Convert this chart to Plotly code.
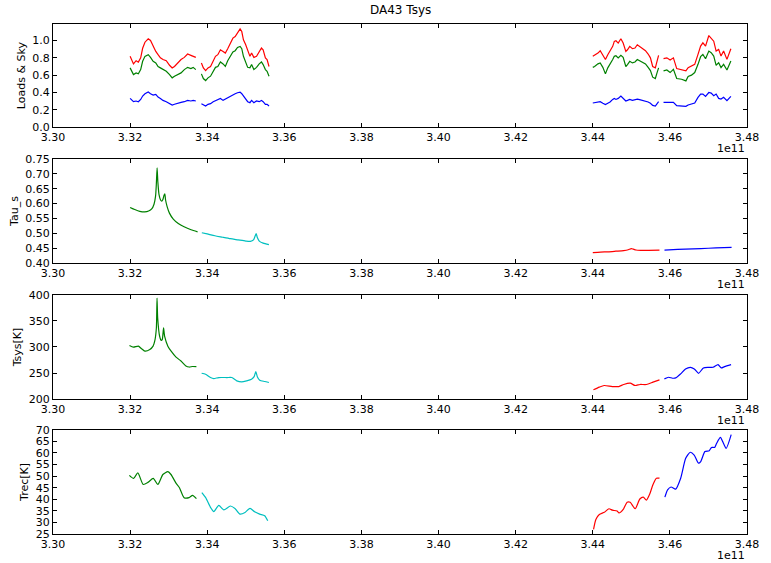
import plotly.graph_objects as go

# Frequencies are in units of 1e11 Hz; four spectral windows per antenna.
# ---------------- Loads & Sky ----------------
ls_x1 = [3.3200, 3.32044, 3.32087, 3.32155, 3.32214, 3.32274, 3.32325, 3.32385, 3.32470, 3.32529,
         3.32597, 3.32666, 3.32725, 3.32785, 3.32853, 3.32938, 3.33023, 3.33091, 3.33151, 3.33236,
         3.33321, 3.33406, 3.33491, 3.33576, 3.33636, 3.33704]
ls_r1 = [0.817, 0.78, 0.73, 0.767, 0.75, 0.80, 0.91, 0.98, 1.02, 1.0, 0.93, 0.874, 0.836, 0.80, 0.78,
         0.767, 0.714, 0.684, 0.70, 0.741, 0.78, 0.805, 0.844, 0.828, 0.817, 0.805]
ls_g1 = [0.684, 0.645, 0.607, 0.626, 0.615, 0.664, 0.76, 0.817, 0.836, 0.805, 0.76, 0.741, 0.70, 0.684,
         0.664, 0.645, 0.607, 0.569, 0.588, 0.607, 0.626, 0.664, 0.69, 0.676, 0.69, 0.664]
ls_b1 = [0.332, 0.309, 0.294, 0.302, 0.294, 0.32, 0.359, 0.386, 0.405, 0.386, 0.37, 0.378, 0.347, 0.332,
         0.309, 0.294, 0.271, 0.256, 0.264, 0.279, 0.286, 0.294, 0.309, 0.302, 0.309, 0.302]

ls_x2 = [3.33849, 3.33900, 3.33959, 3.34020, 3.34086, 3.34155, 3.34214, 3.34275, 3.34342, 3.34411,
         3.34470, 3.34531, 3.34597, 3.34666, 3.34725, 3.34786, 3.34853, 3.34896, 3.34939, 3.34998,
         3.35049, 3.35108, 3.35151, 3.35210, 3.35279, 3.35348, 3.35407, 3.35450, 3.35509, 3.35552, 3.35603]
ls_r2 = [0.741, 0.684, 0.653, 0.684, 0.70, 0.76, 0.817, 0.836, 0.893, 0.874, 0.855, 0.905, 0.97, 1.027,
         1.046, 1.085, 1.134, 1.103, 1.008, 0.951, 0.893, 0.817, 0.855, 0.805, 0.817, 0.874, 0.913, 0.893,
         0.80, 0.78, 0.70]
ls_g2 = [0.615, 0.561, 0.538, 0.569, 0.588, 0.653, 0.69, 0.70, 0.752, 0.73, 0.70, 0.767, 0.817, 0.867,
         0.882, 0.92, 0.932, 0.905, 0.817, 0.76, 0.69, 0.684, 0.722, 0.664, 0.69, 0.73, 0.752, 0.722,
         0.664, 0.645, 0.588]
ls_b2 = [0.271, 0.256, 0.244, 0.264, 0.271, 0.294, 0.309, 0.324, 0.332, 0.309, 0.324, 0.34, 0.359, 0.37,
         0.386, 0.397, 0.405, 0.386, 0.359, 0.332, 0.294, 0.283, 0.309, 0.283, 0.302, 0.294, 0.309, 0.294,
         0.264, 0.264, 0.244]

ls_x3 = [3.4400, 3.44047, 3.44134, 3.44193, 3.44261, 3.44328, 3.44389, 3.44448, 3.44517, 3.44558,
         3.44601, 3.44660, 3.44729, 3.44788, 3.44857, 3.44900, 3.44959, 3.45028, 3.45094, 3.45155,
         3.45214, 3.45283, 3.45367, 3.45436, 3.45495, 3.45554, 3.45623, 3.45666, 3.45707]
ls_r3 = [0.817, 0.828, 0.855, 0.882, 0.836, 0.78, 0.836, 0.874, 0.932, 0.989, 0.997, 0.97, 1.02, 0.97,
         0.874, 0.893, 0.932, 0.905, 0.913, 0.951, 0.932, 0.913, 0.882, 0.844, 0.80, 0.70, 0.684, 0.76, 0.828]
ls_g3 = [0.69, 0.70, 0.73, 0.741, 0.69, 0.615, 0.684, 0.722, 0.78, 0.817, 0.824, 0.80, 0.828, 0.805,
         0.70, 0.722, 0.76, 0.741, 0.752, 0.78, 0.767, 0.752, 0.73, 0.69, 0.653, 0.577, 0.561, 0.626, 0.684]
ls_b3 = [0.279, 0.283, 0.29, 0.294, 0.275, 0.26, 0.275, 0.29, 0.32, 0.332, 0.32, 0.332, 0.359, 0.332,
         0.302, 0.309, 0.32, 0.309, 0.317, 0.324, 0.317, 0.309, 0.294, 0.29, 0.275, 0.252, 0.244, 0.275, 0.294]

ls_x4 = [3.45835, 3.45921, 3.46006, 3.46091, 3.46177, 3.46304, 3.46415, 3.46473, 3.46560, 3.46644,
         3.46729, 3.46797, 3.46856, 3.46925, 3.47010, 3.47071, 3.47137, 3.47199, 3.47265, 3.47326,
         3.47393, 3.47480, 3.47582]
ls_r4 = [0.79, 0.80, 0.775, 0.80, 0.676, 0.66, 0.649, 0.687, 0.706, 0.725, 0.84, 0.935, 0.973, 0.935,
         1.057, 1.03, 0.992, 0.878, 0.897, 0.82, 0.878, 0.782, 0.905]
ls_g4 = [0.649, 0.66, 0.63, 0.668, 0.561, 0.553, 0.534, 0.584, 0.60, 0.63, 0.725, 0.813, 0.84, 0.79,
         0.878, 0.859, 0.82, 0.714, 0.744, 0.687, 0.725, 0.66, 0.763]
ls_b4 = [0.286, 0.286, 0.279, 0.286, 0.248, 0.24, 0.24, 0.256, 0.267, 0.279, 0.344, 0.382, 0.382, 0.355,
         0.40, 0.393, 0.363, 0.382, 0.332, 0.324, 0.344, 0.305, 0.355]

# ---------------- Tau_s ----------------
tau_x1 = [3.3200, 3.3212, 3.3225, 3.3238, 3.3248, 3.3256, 3.3262, 3.3266, 3.3268, 3.3270, 3.3272, 3.3275,
          3.3279, 3.3282, 3.3285, 3.3288, 3.3290, 3.3292, 3.3296, 3.3302, 3.3312, 3.3325, 3.3340, 3.3358, 3.3375]
tau_y1 = [0.587, 0.580, 0.574, 0.572, 0.575, 0.582, 0.598, 0.625, 0.665, 0.720, 0.672, 0.630, 0.612, 0.608,
          0.614, 0.628, 0.633, 0.612, 0.590, 0.568, 0.548, 0.533, 0.522, 0.512, 0.505]
tau_x2 = [3.3386, 3.3400, 3.3420, 3.3440, 3.3460, 3.3480, 3.3500, 3.3512, 3.3520, 3.3524, 3.3527, 3.3530,
          3.3535, 3.3545, 3.3560]
tau_y2 = [0.502, 0.498, 0.492, 0.487, 0.482, 0.478, 0.474, 0.473, 0.478, 0.490, 0.499, 0.486, 0.474, 0.467, 0.462]
tau_x3 = [3.4400, 3.4420, 3.4440, 3.4460, 3.4480, 3.4492, 3.4500, 3.4505, 3.4512, 3.4525, 3.4545, 3.4573]
tau_y3 = [0.435, 0.437, 0.438, 0.440, 0.442, 0.445, 0.449, 0.447, 0.444, 0.443, 0.443, 0.444]
tau_x4 = [3.4586, 3.4620, 3.4660, 3.4700, 3.4740, 3.4760]
tau_y4 = [0.444, 0.446, 0.448, 0.450, 0.452, 0.453]

# ---------------- Tsys ----------------
tsys_x1 = [3.31983, 3.32085, 3.32213, 3.32298, 3.32383, 3.32511, 3.32596, 3.32638, 3.32681, 3.32698,
           3.32715, 3.32766, 3.32809, 3.32834, 3.32868, 3.32894, 3.32979, 3.33064, 3.33191, 3.33319,
           3.33447, 3.33532, 3.33617, 3.33719]
tsys_y1 = [302.9, 299.7, 301.6, 296.5, 292, 295, 301.6, 311, 336.5, 393.7, 355.6, 320.6, 312.4, 314.3,
           336.5, 320.6, 301.6, 292, 280.6, 273, 263.5, 261.5, 262.5, 262.2]
tsys_x2 = [3.33855, 3.33957, 3.34085, 3.34170, 3.34298, 3.34511, 3.34638, 3.34766, 3.34894, 3.35021,
           3.35149, 3.35217, 3.35260, 3.35302, 3.35362, 3.35489, 3.35600]
tsys_y2 = [249.5, 247.6, 241.3, 239.4, 241.3, 241.3, 241.3, 235, 233, 235, 238, 243, 252.7, 242.5, 236.2,
           233.7, 231.8]
tsys_x3 = [3.44017, 3.44169, 3.44295, 3.44506, 3.44675, 3.44802, 3.44970, 3.45097, 3.45224, 3.45392,
           3.45561, 3.45730]
tsys_y3 = [217.8, 222.9, 226, 224, 224, 228, 230.5, 226, 228, 228, 232.4, 236.8]
tsys_x4 = [3.45857, 3.45966, 3.46068, 3.46152, 3.46278, 3.46405, 3.46532, 3.46633, 3.46743, 3.46869,
           3.46996, 3.47122, 3.47249, 3.47333, 3.47418, 3.47587]
tsys_y4 = [238.7, 241.9, 240, 240.6, 248.3, 257.8, 261, 257.8, 249.5, 259.7, 261, 261, 266, 259.7, 262.2, 266]

# ---------------- Trec ----------------
trec_x1 = [3.3198, 3.3209, 3.3220, 3.3234, 3.3247, 3.3260, 3.3272, 3.3285, 3.3298, 3.3306, 3.3319, 3.3328,
           3.3340, 3.3353, 3.3362, 3.3372]
trec_y1 = [50.3, 49.0, 51.4, 46.4, 47.4, 49.0, 46.4, 50.7, 51.9, 50.7, 47.0, 45.0, 40.7, 40.7, 41.7, 40.3]
trec_x2 = [3.3386, 3.3396, 3.3409, 3.3417, 3.3430, 3.3443, 3.3460, 3.3472, 3.3485, 3.3498, 3.3511, 3.3523,
           3.3536, 3.3549, 3.3557]
trec_y2 = [42.9, 40.7, 36.4, 34.7, 37.4, 35.4, 37.1, 36.0, 33.6, 34.3, 36.1, 34.6, 33.6, 32.9, 30.7]
trec_x3 = [3.4402, 3.4408, 3.4417, 3.4430, 3.4442, 3.4451, 3.4463, 3.4468, 3.4480, 3.4489, 3.4497, 3.4510,
           3.4522, 3.4531, 3.4539, 3.4548, 3.4556, 3.4565, 3.4573]
trec_y3 = [27.0, 31.3, 33.4, 34.4, 35.9, 35.3, 34.9, 34.1, 35.9, 38.7, 38.7, 35.9, 40.1, 40.9, 39.6, 42.4,
           46.3, 49.1, 49.1]
trec_x4 = [3.4587, 3.4594, 3.4603, 3.4615, 3.4628, 3.4641, 3.4653, 3.4663, 3.4674, 3.4680, 3.4691, 3.4702,
           3.4708, 3.4716, 3.4721, 3.4731, 3.4737, 3.4746, 3.4759]
trec_y4 = [40.9, 44.1, 45.3, 44.4, 49.1, 57.7, 60.3, 59.1, 55.6, 56.3, 60.6, 61.0, 62.4, 62.4, 64.1, 66.7,
           64.9, 62.0, 67.9]

x_ticks = [3.30, 3.32, 3.34, 3.36, 3.38, 3.40, 3.42, 3.44, 3.46, 3.48]

RED, GREEN, BLUE, CYAN = "#ff0000", "#008000", "#0000ff", "#00bfbf"
FONT = "DejaVu Sans"

W, H = 771, 563
M_L, M_R, M_T, M_B = 53, 13, 24, 25
plot_h = H - M_T - M_B


def dom(top_px, bottom_px):
    return [(H - M_B - bottom_px) / plot_h, (H - M_B - top_px) / plot_h]


panels = [
    dict(title="Loads & Sky", dom=dom(24, 128), rng=[0, 1.19], dtick=0.2, tick0=0, fmt=".1f"),
    dict(title="Tau_s", dom=dom(160, 265), rng=[0.40, 0.75], dtick=0.05, tick0=0.40, fmt=".2f"),
    dict(title="Tsys[K]", dom=dom(297, 402), rng=[200, 400], dtick=50, tick0=200, fmt="d"),
    dict(title="Trec[K]", dom=dom(433, 538), rng=[25, 70], dtick=5, tick0=25, fmt="d"),
]

fig = go.Figure()


def add(row, x, y, color, shape="linear"):
    suffix = "" if row == 1 else str(row)
    fig.add_trace(go.Scatter(
        x=x, y=y, mode="lines", xaxis="x" + suffix, yaxis="y" + suffix,
        line=dict(color=color, width=1.2, shape=shape, smoothing=0.6),
        showlegend=False, hoverinfo="skip"))


for xs, rs, gs, bs in [(ls_x1, ls_r1, ls_g1, ls_b1), (ls_x2, ls_r2, ls_g2, ls_b2),
                       (ls_x3, ls_r3, ls_g3, ls_b3), (ls_x4, ls_r4, ls_g4, ls_b4)]:
    add(1, xs, rs, RED)
    add(1, xs, gs, GREEN)
    add(1, xs, bs, BLUE)

for row, series in [(2, [(tau_x1, tau_y1), (tau_x2, tau_y2), (tau_x3, tau_y3), (tau_x4, tau_y4)]),
                    (3, [(tsys_x1, tsys_y1), (tsys_x2, tsys_y2), (tsys_x3, tsys_y3), (tsys_x4, tsys_y4)]),
                    (4, [(trec_x1, trec_y1), (trec_x2, trec_y2), (trec_x3, trec_y3), (trec_x4, trec_y4)])]:
    for (xs, ys), c in zip(series, [GREEN, CYAN, RED, BLUE]):
        add(row, xs, ys, c, shape="spline")

layout = dict(
    width=W, height=H,
    margin=dict(l=M_L, r=M_R, t=M_T, b=M_B),
    paper_bgcolor="white", plot_bgcolor="white",
    font=dict(family=FONT, size=11, color="black"),
    showlegend=False,
)

annotations = [dict(text="DA43 Tsys", xref="paper", yref="paper", x=0.5, y=1, yshift=14,
                    xanchor="center", yanchor="middle", showarrow=False,
                    font=dict(family=FONT, size=12, color="black"))]

for i, p in enumerate(panels, start=1):
    suffix = "" if i == 1 else str(i)
    common = dict(showline=True, linecolor="black", linewidth=1, mirror="allticks",
                  ticks="inside", ticklen=4, tickwidth=1, tickcolor="black",
                  showgrid=False, zeroline=False, fixedrange=True,
                  tickfont=dict(family=FONT, size=11, color="black"))
    layout["xaxis" + suffix] = dict(common, domain=[0, 1], anchor="y" + suffix,
                                    range=[3.30, 3.48], tickvals=x_ticks, tickformat=".2f")
    layout["yaxis" + suffix] = dict(common, domain=p["dom"], anchor="x" + suffix,
                                    range=p["rng"], tick0=p["tick0"], dtick=p["dtick"],
                                    tickformat=p["fmt"],
                                    title=dict(text=p["title"], standoff=4,
                                               font=dict(family=FONT, size=11, color="black")))
    # offset multiplier shown under the right end of each x axis
    annotations.append(dict(text="1e11", xref="paper", yref="paper", x=1, y=p["dom"][0],
                            yshift=-21, xanchor="right", yanchor="middle", showarrow=False,
                            font=dict(family=FONT, size=11, color="black")))

layout["annotations"] = annotations
fig.update_layout(**layout)

fig.write_html("out.html")
